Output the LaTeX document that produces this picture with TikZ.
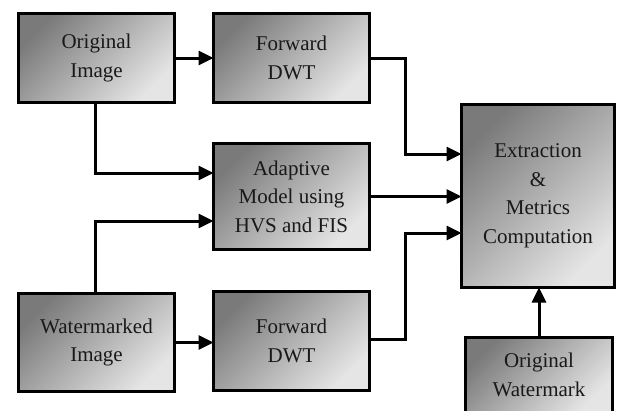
\documentclass[tikz,border=0pt]{standalone}
\usepackage{fontspec}
\setmainfont{Liberation Serif}
\usetikzlibrary{arrows.meta}
\begin{document}
\begin{tikzpicture}[x=1pt,y=-1pt,
  blk/.style={draw=black, line width=3.2pt, rectangle, align=center,
    top color=black!52, bottom color=black!10, shading angle=45,
    inner sep=0pt, outer sep=0pt,
    font=\fontsize{21}{28.5}\selectfont, text=black!90},
  arr/.style={line width=3pt, -{Triangle[length=15pt,width=14pt]}}]
\useasboundingbox (0,0) rectangle (617,410);
\node[blk, minimum width=156pt, minimum height=89pt] (oi) at (96.5,58) {Original\\Image};
\node[blk, minimum width=156pt, minimum height=89pt] (fd1) at (291.5,58) {Forward\\DWT};
\node[blk, minimum width=156pt, minimum height=106pt] (ad) at (291.5,196.5) {Adaptive\\Model using\\HVS and FIS};
\node[blk, minimum width=156pt, minimum height=98pt] (wi) at (96.5,342.5) {Watermarked\\Image};
\node[blk, minimum width=156pt, minimum height=99pt] (fd2) at (291.5,341) {Forward\\DWT};
\node[blk, minimum width=153pt, minimum height=183pt] (ex) at (538,196) {Extraction\\\&\\Metrics\\Computation};
\node[blk, minimum width=147pt, minimum height=75pt] (ow) at (539,375) {Original\\Watermark};
\draw[arr] (oi.east) -- (fd1.west);
\draw[arr] ([xshift=-1.5pt]oi.south) |- ([yshift=23.5pt]ad.west);
\draw[arr] ([xshift=-1.5pt]wi.north) |- ([yshift=-24.5pt]ad.west);
\draw[arr] (wi.east) -- (wi.east -| fd2.west);
\draw[arr] (fd1.east) -- ++(36,0) |- ([yshift=42pt]ex.west);
\draw[arr] (ad.east) -- (ad.east -| ex.west);
\draw[arr] ([yshift=2pt]fd2.east) -- ++(36,0) |- ([yshift=-37pt]ex.west);
\draw[arr] (ow.north) -- (ow.north |- ex.south);
\end{tikzpicture}
\end{document}
